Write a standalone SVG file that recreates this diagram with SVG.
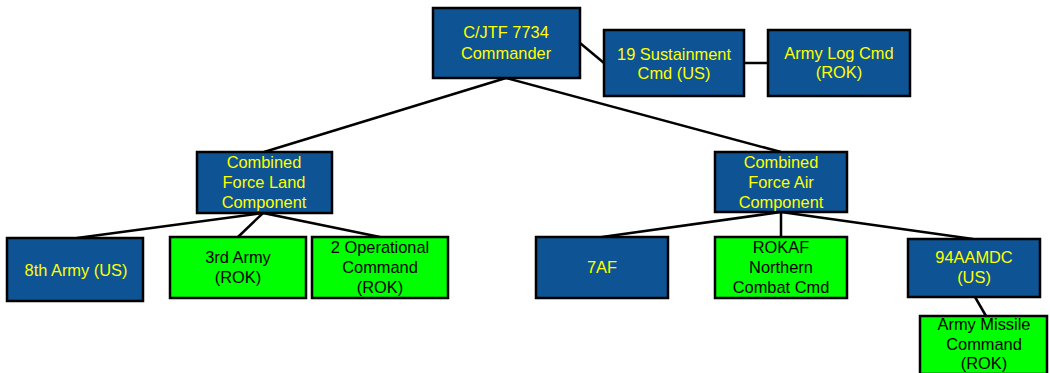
<svg xmlns="http://www.w3.org/2000/svg" width="1050" height="373" viewBox="0 0 1050 373">
<style>
.b{fill:#0e5394;stroke:#000;stroke-width:2.5}
.g{fill:#00ff00;stroke:#000;stroke-width:2.5}
.ty{fill:#ffff00;font-family:"Liberation Sans",Arial,sans-serif;font-size:16.4px;text-anchor:middle}
.tk{fill:#000;font-family:"Liberation Sans",Arial,sans-serif;font-size:16.4px;text-anchor:middle}
.c{stroke:#000;stroke-width:2.5;fill:none}
</style>
<rect width="1050" height="373" fill="#fff"/>
<g id="connectors">
<line class="c" x1="580" y1="43" x2="604" y2="63"/>
<line class="c" x1="744" y1="63" x2="768" y2="63"/>
<line class="c" x1="506" y1="78" x2="264" y2="152"/>
<line class="c" x1="506" y1="78" x2="781" y2="152"/>
<line class="c" x1="263" y1="213" x2="77" y2="238"/>
<line class="c" x1="263" y1="213" x2="238" y2="237"/>
<line class="c" x1="263" y1="213" x2="380" y2="237"/>
<line class="c" x1="781" y1="212" x2="602" y2="237"/>
<line class="c" x1="781" y1="212" x2="781" y2="237"/>
<line class="c" x1="781" y1="212" x2="973" y2="239"/>
<line class="c" x1="975" y1="297" x2="986" y2="316"/>
</g>
<g id="commander">
<rect class="b" x="433" y="8" width="147" height="70"/>
<text class="ty" x="506" y="38">C/JTF 7734</text>
<text class="ty" x="506" y="59">Commander</text>
</g>
<g id="sustainment">
<rect class="b" x="604" y="30" width="140" height="66"/>
<text class="ty" x="674" y="60">19 Sustainment</text>
<text class="ty" x="674" y="79">Cmd (US)</text>
</g>
<g id="armylog">
<rect class="b" x="768" y="30" width="142" height="66"/>
<text class="ty" x="839" y="59">Army Log Cmd</text>
<text class="ty" x="839" y="78">(ROK)</text>
</g>
<g id="cflc">
<rect class="b" x="197" y="152" width="135" height="61"/>
<text class="ty" x="264" y="168">Combined</text>
<text class="ty" x="264" y="188">Force Land</text>
<text class="ty" x="264" y="208">Component</text>
</g>
<g id="cfac">
<rect class="b" x="715" y="152" width="132" height="60"/>
<text class="ty" x="781" y="168">Combined</text>
<text class="ty" x="781" y="188">Force Air</text>
<text class="ty" x="781" y="208">Component</text>
</g>
<g id="army8">
<rect class="b" x="7" y="238" width="136" height="63"/>
<text class="ty" x="76" y="276">8th Army (US)</text>
</g>
<g id="army3">
<rect class="g" x="170" y="237" width="136" height="61"/>
<text class="tk" x="238" y="263">3rd Army</text>
<text class="tk" x="238" y="283">(ROK)</text>
</g>
<g id="opcmd2">
<rect class="g" x="312" y="237" width="136" height="61"/>
<text class="tk" x="380" y="253">2 Operational</text>
<text class="tk" x="380" y="273">Command</text>
<text class="tk" x="380" y="293">(ROK)</text>
</g>
<g id="af7">
<rect class="b" x="536" y="237" width="132" height="61"/>
<text class="ty" x="602" y="273">7AF</text>
</g>
<g id="rokaf">
<rect class="g" x="715" y="237" width="132" height="61"/>
<text class="tk" x="781" y="253">ROKAF</text>
<text class="tk" x="781" y="273">Northern</text>
<text class="tk" x="781" y="293">Combat Cmd</text>
</g>
<g id="aamdc94">
<rect class="b" x="908" y="239" width="132" height="58"/>
<text class="ty" x="974" y="263">94AAMDC</text>
<text class="ty" x="974" y="283">(US)</text>
</g>
<g id="missile">
<rect class="g" x="920" y="316" width="127" height="58"/>
<text class="tk" x="984" y="330">Army Missile</text>
<text class="tk" x="984" y="350">Command</text>
<text class="tk" x="984" y="369">(ROK)</text>
</g>
</svg>
